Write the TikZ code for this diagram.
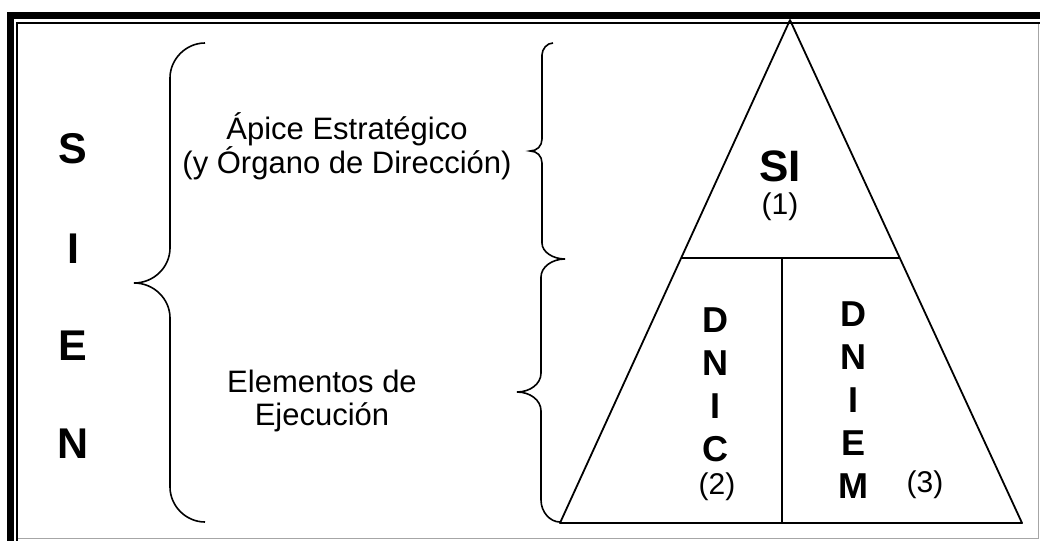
\documentclass[tikz,border=0pt]{standalone}
\usepackage{fontspec}
\setmainfont{Liberation Sans}
\usetikzlibrary{calc}
\tikzstyle{bigletter}=[font=\fontsize{43}{50}\selectfont\bfseries, inner sep=0pt]
\tikzstyle{txt}=[font=\fontsize{31}{33}\selectfont, align=center, inner sep=0pt]
\tikzstyle{column}=[font=\fontsize{36}{43}\selectfont\bfseries, align=center, inner sep=0pt]
\tikzstyle{num}=[font=\fontsize{30}{33}\selectfont, inner sep=0pt]
\tikzstyle{edge}=[draw, line width=1.8pt, line join=round]
\tikzstyle{bracket}=[draw, line width=1.6pt]

\begin{document}
\begin{tikzpicture}[x=1pt, y=-1pt]

    \useasboundingbox (0,0) rectangle (1040,541);

    % frame
    \fill[black] (7,12) rectangle (1040,19);
    \fill[black] (7,12) rectangle (14,541);
    \fill[black] (16,22) rectangle (1040,24);
    \fill[black] (16,22) rectangle (18,541);
    \draw[gray!70, line width=1pt] (18,538.5) -- (1038.5,538.5) -- (1038.5,24);

    % S I E N
    \foreach \y/\ch in {149/S, 249/I, 346/E, 444/N}
        \node[bigletter] (l\ch) at (73,\y) {\ch};

    % braces
    \path[bracket] (205,43) .. controls (186,43) and (170,59) .. (170,78)
        -- (170,248) .. controls (170,267) and (154,283) .. (134,283)
        .. controls (154,283) and (170,299) .. (170,318)
        -- (170,487) .. controls (170,506) and (186,522) .. (205,522);

    \path[bracket] (553,43) .. controls (547,43) and (542,49) .. (542,55)
        -- (542,139) .. controls (542,146) and (537,151) .. (530,151)
        .. controls (537,151) and (542,156) .. (542,163)
        -- (542,243) .. controls (542,252) and (553,259) .. (565,259);

    \path[bracket] (565,259) .. controls (552,259) and (541,267) .. (541,277)
        -- (541,373) .. controls (541,384) and (530,392) .. (517,392)
        .. controls (530,392) and (541,400) .. (541,411)
        -- (541,500) .. controls (541,512) and (550,522) .. (560,522);

    \node[txt] (apice) at (347,146) {Ápice Estratégico\\(y Órgano de Dirección)};
    \node[txt] (ejec) at (322,401) {Elementos de\\Ejecución};

    % pyramid
    \coordinate (top) at (790,20);
    \coordinate (bl) at (560,523);
    \coordinate (br) at (1022,523);
    \coordinate (ml) at ($(top)!0.4732!(bl)$);
    \coordinate (mr) at ($(top)!0.4732!(br)$);
    \coordinate (mid) at (782,258);
    \coordinate (bm) at (782,523);

    \path[edge] (top) -- (bl) -- (br) -- cycle;
    \path[edge] (ml) -- (mr);
    \path[edge] (mid) -- (bm);

    \node[bigletter, font=\fontsize{44}{50}\selectfont\bfseries] (si) at (780,166) {SI};
    \node[num] (n1) at (780,207) {(1)};

    \node[column] (dnic) at (715,385) {D\\N\\I\\C};
    \node[num] (n2) at (717,487) {(2)};

    \node[column] (dniem) at (853,400) {D\\N\\I\\E\\M};
    \node[num] (n3) at (925,485) {(3)};

\end{tikzpicture}
\end{document}
